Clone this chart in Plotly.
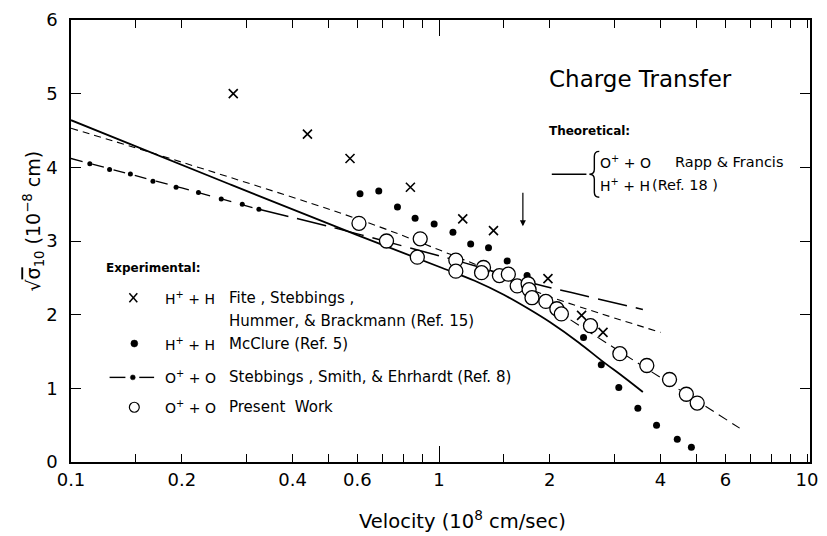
import math
import plotly.graph_objects as go

# ---------------- data ----------------
# Theoretical, Rapp & Francis (solid)
theory_x = [0.1, 0.27, 0.6, 1.0, 1.25, 1.5, 1.75, 2.0, 2.4, 2.76, 3.2, 3.58]
theory_y = [4.64, 3.77, 3.08, 2.65, 2.46, 2.27, 2.08, 1.90, 1.62, 1.38, 1.14, 0.95]

# short-dashed curve (upper)
dash_up_x = [0.1, 0.17, 0.6, 1.0, 1.5, 1.82, 4.0]
dash_up_y = [4.53, 4.18, 3.30, 2.88, 2.52, 2.32, 1.76]

# dashed curve through present-work points
dash_lo_x = [1.5, 2.15, 6.56]
dash_lo_y = [2.52, 2.01, 0.46]

# Stebbings, Smith & Ehrhardt (Ref. 8) dot-dash curve
ref8_left_x = [0.1, 0.2, 0.324]
ref8_left_y = [4.12, 3.72, 3.43]
ref8_right_x = [0.324, 0.5, 0.8, 1.18, 1.82, 2.29, 3.58]
ref8_right_y = [3.43, 3.20, 2.93, 2.70, 2.42, 2.30, 2.07]
ref8_dot_x = [0.1125, 0.1273, 0.145, 0.167, 0.193, 0.222, 0.256, 0.292, 0.324]
ref8_dot_y = [4.05, 3.97, 3.91, 3.81, 3.73, 3.66, 3.57, 3.50, 3.43]

# Fite, Stebbings, Hummer & Brackmann (Ref. 15)  H+ + H   (X)
fite_x = [0.276, 0.439, 0.573, 0.836, 1.16, 1.406, 1.977, 2.44, 2.79]
fite_y = [5.00, 4.45, 4.12, 3.73, 3.30, 3.14, 2.49, 1.99, 1.76]

# McClure (Ref. 5)  H+ + H   (filled dots)
mcclure_x = [0.610, 0.686, 0.771, 0.861, 0.970, 1.091, 1.219, 1.363, 1.532, 1.735,
             1.940, 2.18, 2.47, 2.76, 3.08, 3.47, 3.90, 4.44, 4.85]
mcclure_y = [3.64, 3.68, 3.46, 3.31, 3.23, 3.12, 2.96, 2.91, 2.73, 2.53,
             2.23, 2.01, 1.69, 1.32, 1.01, 0.73, 0.50, 0.31, 0.20]

# Present work  O+ + O   (open circles)
present_x = [0.606, 0.720, 0.889, 0.873, 1.111, 1.111, 1.321, 1.305, 1.459, 1.543,
             1.631, 1.746, 1.757, 1.789, 1.951, 2.09, 2.15, 2.58, 3.10, 3.67,
             4.23, 4.70, 5.03]
present_y = [3.24, 3.00, 3.03, 2.78, 2.74, 2.59, 2.64, 2.57, 2.53, 2.55,
             2.39, 2.42, 2.34, 2.23, 2.18, 2.08, 2.01, 1.85, 1.47, 1.31,
             1.12, 0.92, 0.80]

# arrow marker (velocity where arrow points)
arrow_x = 1.69
arrow_y_head = 3.20

x_tick_vals = [0.1, 0.2, 0.4, 0.6, 1, 2, 4, 6, 10]
x_tick_text = ["0.1", "0.2", "0.4", "0.6", "1", "2", "4", "6", "10"]
x_minor_vals = [0.15, 0.3, 0.5, 0.7, 0.8, 0.9, 1.5, 3, 5, 7, 8, 9]
y_tick_vals = [0, 1, 2, 3, 4, 5, 6]
y_tick_text = ["0", "1", "2", "3", "4", "5", "6"]

# ---------------- layout geometry ----------------
W, H = 827, 536
L, R, T, B = 71, 818, 18, 462
FONT = "DejaVu Sans"
LEG = 15
SYM = 14


def px(x):
    return (x - L) / (R - L)


def py(y):
    return (B - y) / (B - T)


fig = go.Figure()
blk = "black"

fig.add_trace(go.Scatter(x=theory_x, y=theory_y, mode="lines",
                         line=dict(color=blk, width=1.8, shape="spline", smoothing=1.0)))
fig.add_trace(go.Scatter(x=dash_up_x, y=dash_up_y, mode="lines",
                         line=dict(color=blk, width=1.1, dash="7px,5px", shape="spline")))
fig.add_trace(go.Scatter(x=dash_lo_x, y=dash_lo_y, mode="lines",
                         line=dict(color=blk, width=1.1, dash="10px,6px", shape="spline")))
fig.add_trace(go.Scatter(x=ref8_left_x, y=ref8_left_y, mode="lines",
                         line=dict(color=blk, width=1.3, dash="12px,10px")))
fig.add_trace(go.Scatter(x=ref8_right_x, y=ref8_right_y, mode="lines",
                         line=dict(color=blk, width=1.5, dash="30px,9px", shape="spline")))
fig.add_trace(go.Scatter(x=ref8_dot_x, y=ref8_dot_y, mode="markers",
                         marker=dict(color=blk, size=5, symbol="circle")))
fig.add_trace(go.Scatter(x=mcclure_x, y=mcclure_y, mode="markers",
                         marker=dict(color=blk, size=7, symbol="circle")))
fig.add_trace(go.Scatter(x=present_x, y=present_y, mode="markers",
                         marker=dict(color="white", size=14, symbol="circle",
                                     line=dict(color=blk, width=1.3))))
fig.add_trace(go.Scatter(x=fite_x, y=fite_y, mode="markers",
                         marker=dict(color=blk, size=9, symbol="x-thin",
                                     line=dict(color=blk, width=1.6))))
# dummy trace for the long tick at 1
fig.add_trace(go.Scatter(x=[None], y=[None], xaxis="x2", mode="markers",
                         hoverinfo="skip"))

annotations = []
shapes = []


def text(xp, yp, s, size=LEG, anchor="left", bold=False, yanchor="middle"):
    if bold:
        s = "<b>" + s + "</b>"
    annotations.append(dict(xref="paper", yref="paper", x=px(xp), y=py(yp),
                            text=s, showarrow=False, xanchor=anchor,
                            yanchor=yanchor, borderpad=0,
                            font=dict(family=FONT, size=size, color=blk)))


# Title
text(553, 77, "Charge Transfer", size=23)

# Theoretical legend
text(553, 130, "Theoretical:", size=12, bold=True)
shapes.append(dict(type="line", xref="paper", yref="paper",
                   x0=px(557), x1=px(592), y0=py(173), y1=py(173),
                   line=dict(color=blk, width=1.5)))
brace_pts = "M {a},{b} Q {c},{b} {c},{d} L {c},{e} Q {c},{f} {g},{f} " \
            "Q {c},{f} {c},{h} L {c},{i} Q {c},{j} {a},{j}"
shapes.append(dict(type="path", xref="paper", yref="paper",
                   path=brace_pts.format(a=px(605), b=py(150), c=px(600), d=py(155),
                                         e=py(168), f=py(173), g=px(595),
                                         h=py(178), i=py(191), j=py(196)),
                   line=dict(color=blk, width=1.4)))
text(605, 161, "O<sup>+</sup> + O", size=SYM)
text(681, 161, "Rapp &amp; Francis", size=14.5)
text(605, 184, "H<sup>+</sup> + H", size=SYM)
text(657, 184, "(Ref. 18 )", size=14.5)

# Experimental legend
text(105, 267, "Experimental:", size=12, bold=True)
# X symbol
for (dx0, dy0, dx1, dy1) in [(-4, -4.5, 4, 4.5), (-4, 4.5, 4, -4.5)]:
    shapes.append(dict(type="line", xref="paper", yref="paper",
                       x0=px(134 + dx0), x1=px(134 + dx1),
                       y0=py(297 + dy0), y1=py(297 + dy1),
                       line=dict(color=blk, width=1.5)))
text(165, 297, "H<sup>+</sup> + H", size=SYM)
text(230, 297, "Fite , Stebbings ,")
text(230, 320, "Hummer, &amp; Brackmann (Ref. 15)")
# dot
shapes.append(dict(type="circle", xref="paper", yref="paper",
                   x0=px(131.5), x1=px(138.5), y0=py(339.5), y1=py(346.5),
                   fillcolor=blk, line=dict(color=blk, width=0.5)))
text(165, 343, "H<sup>+</sup> + H", size=SYM)
text(230, 343, "McClure (Ref. 5)")
# dot-dash sample
shapes.append(dict(type="line", xref="paper", yref="paper",
                   x0=px(110), x1=px(126), y0=py(377), y1=py(377),
                   line=dict(color=blk, width=1.4)))
shapes.append(dict(type="line", xref="paper", yref="paper",
                   x0=px(140), x1=px(155), y0=py(377), y1=py(377),
                   line=dict(color=blk, width=1.4)))
shapes.append(dict(type="circle", xref="paper", yref="paper",
                   x0=px(131), x1=px(136), y0=py(374.5), y1=py(379.5),
                   fillcolor=blk, line=dict(color=blk, width=0.5)))
text(165, 377, "O<sup>+</sup> + O", size=SYM)
text(230, 377, "Stebbings , Smith, &amp; Ehrhardt (Ref. 8)")
# open circle
shapes.append(dict(type="circle", xref="paper", yref="paper",
                   x0=px(130), x1=px(140), y0=py(402), y1=py(412),
                   fillcolor="white", line=dict(color=blk, width=1.2)))
text(165, 407, "O<sup>+</sup> + O", size=SYM)
text(230, 407, "Present  Work")

# Axis titles
annotations.append(dict(xref="paper", yref="paper", x=px(33), y=py(220),
                        text="√<span style='text-decoration:overline'>σ</span><sub>10</sub> (10<sup>−8</sup> cm)",
                        showarrow=False, textangle=-90, xanchor="center", yanchor="middle",
                        font=dict(family=FONT, size=19, color=blk)))
annotations.append(dict(xref="paper", yref="paper", x=px(467), y=py(520),
                        text="Velocity (10<sup>8</sup> cm/sec)",
                        showarrow=False, xanchor="center", yanchor="middle",
                        font=dict(family=FONT, size=19.5, color=blk)))

# Arrow
annotations.append(dict(x=math.log10(arrow_x), y=arrow_y_head, xref="x", yref="y",
                        text="", showarrow=True, ax=0, ay=-35, arrowhead=2,
                        arrowsize=1, arrowwidth=1.2, arrowcolor=blk))

fig.update_layout(
    width=W, height=H,
    margin=dict(l=L, r=W - R, t=T, b=H - B),
    paper_bgcolor="white", plot_bgcolor="white",
    showlegend=False,
    annotations=annotations, shapes=shapes,
    xaxis=dict(type="log", range=[-1, -1 + (R - L) / 372.0],
               tickvals=x_tick_vals, ticktext=x_tick_text,
               ticks="inside", ticklen=8, tickwidth=1.2, tickcolor=blk,
               minor=dict(tickvals=x_minor_vals, ticks="inside", ticklen=8,
                          tickwidth=1.2, tickcolor=blk, showgrid=False),
               showline=True, linecolor=blk, linewidth=1.5, mirror="ticks",
               showgrid=False, zeroline=False, ticklabelstandoff=1,
               tickfont=dict(family=FONT, size=18, color=blk)),
    xaxis2=dict(type="log", range=[-1, -1 + (R - L) / 372.0], overlaying="x",
                anchor="y", side="bottom",
                tickvals=[1], ticks="inside", ticklen=16, tickwidth=1.2, tickcolor=blk,
                showticklabels=False, showline=False, showgrid=False, zeroline=False,
                mirror="ticks"),
    yaxis=dict(range=[0, 6], tickvals=y_tick_vals, ticktext=y_tick_text,
               ticks="inside", ticklen=10, tickwidth=1.2, tickcolor=blk,
               showline=True, linecolor=blk, linewidth=1.5, mirror="ticks",
               showgrid=False, zeroline=False, ticklabelstandoff=8,
               tickfont=dict(family=FONT, size=18, color=blk)),
)

fig.write_html("out.html")
